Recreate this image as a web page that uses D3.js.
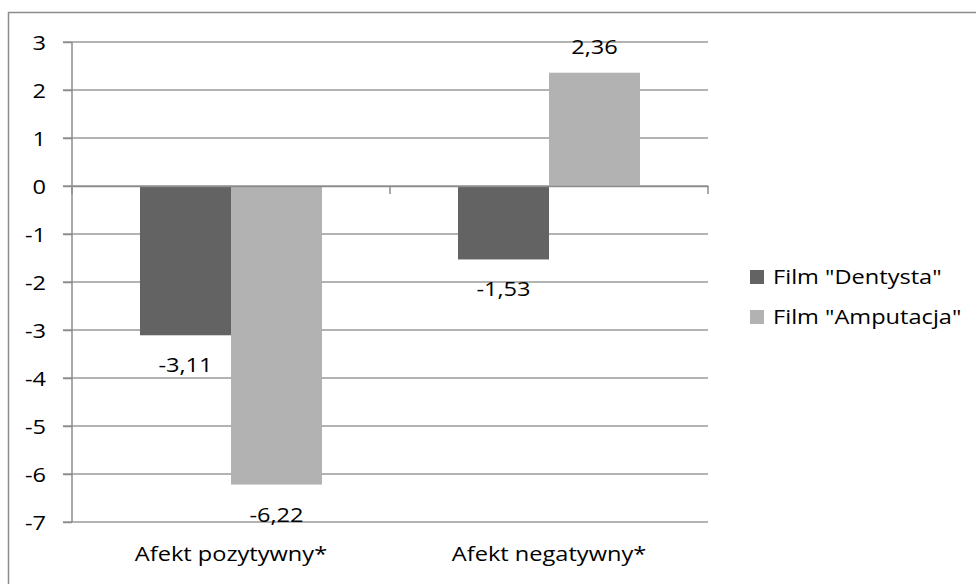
<!DOCTYPE html>
<html><head><meta charset="utf-8">
<script src="https://cdn.jsdelivr.net/npm/d3@7"></script>
<style>body{margin:0;background:#fff}svg{display:block}text{font-family:"Open Sans",sans-serif;fill:#000}</style>
</head><body>
<svg id="c" width="976" height="584"></svg>
<script>
const categories = ["Afekt pozytywny*", "Afekt negatywny*"];
const seriesNames = ['Film "Dentysta"', 'Film "Amputacja"'];
const dentysta = [-3.11, -1.53];
const amputacja = [-6.22, 2.36];
const yTicks = [3, 2, 1, 0, -1, -2, -3, -4, -5, -6, -7];
const colors = ["#636363", "#b2b2b2"];

const series = [dentysta, amputacja];
const svg = d3.select("#c");
const FS = 20, SX = 1.18;
const L = 72, R = 708, T = 42, B = 522;
const tf = (x, y) => `translate(${x},${y}) scale(${SX},1)`;

svg.append("rect").attr("x", 8.5).attr("y", 12.5).attr("width", 1000).attr("height", 1000)
  .attr("fill", "none").attr("stroke", "#8c8c8c").attr("stroke-width", 1.5);

const y = d3.scaleLinear().domain([-7, 3]).range([B, T]);
const x0 = d3.scaleBand().domain(categories).range([L, R]).padding(0);
const x1 = d3.scaleBand().domain(seriesNames).range([0, x0.bandwidth()]).paddingInner(0).paddingOuter(0.747);

// gridlines
svg.append("g").selectAll("line").data(yTicks).join("line")
  .attr("x1", L - 9).attr("x2", R).attr("y1", d => y(d)).attr("y2", d => y(d))
  .attr("stroke", "#9a9a9a").attr("stroke-width", 1.5);

// y axis
const yAxis = d3.axisLeft(y).tickValues(yTicks).tickSize(9).tickPadding(17).tickFormat(d3.format("d"));
const ga = svg.append("g").attr("transform", `translate(${L},0)`).call(yAxis);
ga.select(".domain").attr("stroke", "#8c8c8c").attr("stroke-width", 1.5).attr("d", `M0,${T}V${B}`);
ga.selectAll(".tick line").attr("stroke", "#8c8c8c").attr("stroke-width", 1.5);
ga.selectAll(".tick text").attr("font-size", FS).attr("font-family", '"Open Sans",sans-serif').attr("fill", "#000")
  .attr("x", 0).attr("dy", "0.35em").attr("transform", tf(-26, 0))
  .text(d => d < 0 ? "-" + Math.abs(d) : d);

// bars
const groups = svg.append("g").selectAll("g").data(categories).join("g")
  .attr("transform", d => `translate(${x0(d)},0)`);
groups.selectAll("rect").data((c, i) => seriesNames.map((s, j) => ({s, j, v: series[j][i]}))).join("rect")
  .attr("x", d => x1(d.s)).attr("width", x1.bandwidth())
  .attr("y", d => y(Math.max(0, d.v))).attr("height", d => Math.abs(y(d.v) - y(0)))
  .attr("fill", d => colors[d.j]);

// zero axis with ticks
const gx = svg.append("g").attr("transform", `translate(0,${y(0)})`)
  .call(d3.axisBottom(x0).tickSize(0).tickFormat(""));
gx.select(".domain").attr("stroke", "#8c8c8c").attr("stroke-width", 1.5);
const bounds = [L, L + x0.step(), R];
gx.selectAll(".bt").data(bounds).join("line").attr("class", "bt")
  .attr("x1", d => d).attr("x2", d => d).attr("y1", 0).attr("y2", 8)
  .attr("stroke", "#8c8c8c").attr("stroke-width", 1.5);

// data labels
const fmt = v => (v < 0 ? "-" : "") + Math.abs(v).toFixed(2).replace(".", ",");
groups.selectAll("text.lbl").data((c, i) => seriesNames.map((s, j) => ({s, j, v: series[j][i]}))).join("text")
  .attr("class", "lbl")
  .attr("transform", d => tf(x1(d.s) + x1.bandwidth() / 2, d.v < 0 ? y(d.v) + 37 : y(d.v) - 19))
  .attr("text-anchor", "middle").attr("font-size", FS).text(d => fmt(d.v));

// category labels
svg.append("g").selectAll("text").data(categories).join("text")
  .attr("transform", d => tf(x0(d) + x0.bandwidth() / 2, 561))
  .attr("text-anchor", "middle").attr("font-size", FS).text(d => d);

// legend
const lg = svg.append("g").selectAll("g").data(seriesNames).join("g")
  .attr("transform", (d, i) => `translate(750,${277 + i * 40})`);
lg.append("rect").attr("x", 0).attr("y", -7).attr("width", 14).attr("height", 14).attr("fill", (d, i) => colors[i]);
lg.append("text").attr("transform", tf(23, 7)).attr("font-size", FS).text(d => d);
</script>
</body></html>
